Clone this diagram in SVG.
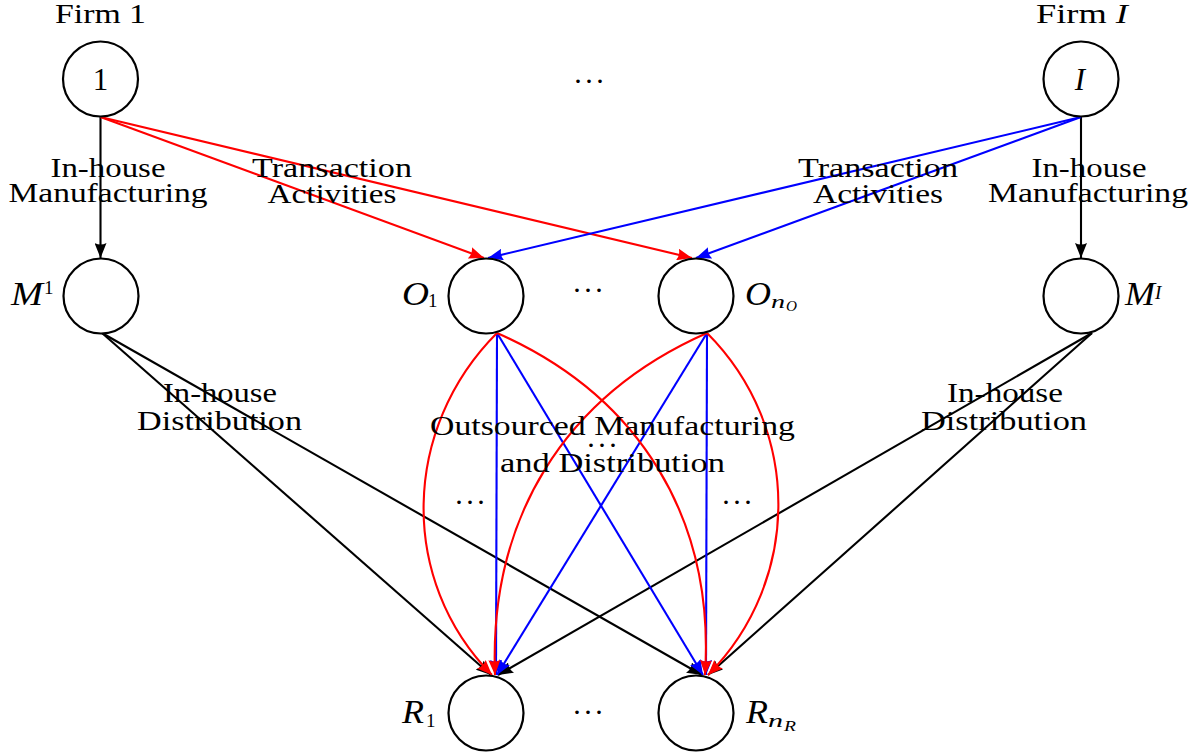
<svg xmlns="http://www.w3.org/2000/svg" width="1202" height="755" viewBox="0 0 1202 755">
<style>
.node{fill:#fff;stroke:#000;stroke-width:2.2}
.t{font-family:"Liberation Serif",serif;font-size:27px;fill:#000;text-anchor:middle}
.c{font-family:"Liberation Serif",serif;font-size:31px;fill:#000;text-anchor:middle}
.m{font-family:"Liberation Serif",serif;font-style:italic;font-size:33px;fill:#000}
.s{font-family:"Liberation Serif",serif;font-size:19px;fill:#000}
.si{font-family:"Liberation Serif",serif;font-style:italic;font-size:19px;fill:#000}
.ss{font-family:"Liberation Serif",serif;font-style:italic;font-size:14px;fill:#000}
.dots{font-family:"Liberation Serif",serif;font-size:30px;fill:#000;text-anchor:middle}
.k{fill:none;stroke:#000;stroke-width:2.1;marker-end:url(#ak)}
.r{fill:none;stroke:#f00;stroke-width:2.1;marker-end:url(#ar)}
.b{fill:none;stroke:#00f;stroke-width:2.1;marker-end:url(#ab)}
</style>
<defs>
<marker id="ak" markerUnits="userSpaceOnUse" markerWidth="16" markerHeight="12" refX="15" refY="6" orient="auto"><path d="M0,0 L15,6 L0,12 Q3,6 0,0 Z" fill="#000"/></marker>
<marker id="ar" markerUnits="userSpaceOnUse" markerWidth="16" markerHeight="12" refX="15" refY="6" orient="auto"><path d="M0,0 L15,6 L0,12 Q3,6 0,0 Z" fill="#f00"/></marker>
<marker id="ab" markerUnits="userSpaceOnUse" markerWidth="16" markerHeight="12" refX="15" refY="6" orient="auto"><path d="M0,0 L15,6 L0,12 Q3,6 0,0 Z" fill="#00f"/></marker>
</defs>
<rect width="1202" height="755" fill="#fff"/>

<g id="connectors">
<line class="k" x1="100.5" y1="117" x2="100.5" y2="258"/>
<line class="k" x1="1081" y1="117" x2="1081" y2="258"/>
<line class="r" x1="100.5" y1="117" x2="484" y2="258"/>
<line class="r" x1="100.5" y1="117" x2="692" y2="258"/>
<line class="b" x1="1081" y1="117" x2="488" y2="258"/>
<line class="b" x1="1081" y1="117" x2="696" y2="258"/>
<line class="k" x1="102" y1="333" x2="491" y2="675"/>
<line class="k" x1="102" y1="333" x2="702" y2="675"/>
<line class="k" x1="1092" y1="333" x2="498" y2="675"/>
<line class="k" x1="1092" y1="333" x2="708" y2="675"/>
<line class="b" x1="497" y1="333" x2="496" y2="675"/>
<line class="b" x1="497" y1="333" x2="703" y2="675"/>
<line class="b" x1="707" y1="333" x2="497" y2="675"/>
<line class="b" x1="707" y1="333" x2="706" y2="675"/>
<path class="r" d="M497,333 C402,428 398,580 492,675"/>
<path class="r" d="M707,333 C802,428 802,580 708,675"/>
<path class="r" d="M497,333 C640,396 715,519 705,675"/>
<path class="r" d="M707,333 C564,396 489,519 495,675"/>
</g>

<g id="firm1">
<circle class="node" cx="100.5" cy="79" r="37.5"/>
<text class="c" x="100.5" y="90">1</text>
<text class="t" x="100.5" y="23" textLength="91" lengthAdjust="spacingAndGlyphs">Firm 1</text>
</g>
<g id="firmI">
<circle class="node" cx="1081" cy="79" r="37.5"/>
<text class="c" x="1080" y="90" font-style="italic">I</text>
<text class="t" x="1082" y="23" textLength="92" lengthAdjust="spacingAndGlyphs">Firm <tspan font-style="italic">I</tspan></text>
</g>
<g id="M1">
<circle class="node" cx="101" cy="296" r="37.5"/>
<text class="m" x="11" y="305" textLength="32" lengthAdjust="spacingAndGlyphs">M</text>
<text class="s" x="44" y="294">1</text>
</g>
<g id="MI">
<circle class="node" cx="1081" cy="296" r="37.5"/>
<text class="m" x="1125" y="305" textLength="30" lengthAdjust="spacingAndGlyphs">M</text>
<text class="si" x="1155" y="299">I</text>
</g>
<g id="O1">
<circle class="node" cx="486" cy="296" r="37.5"/>
<text class="m" x="402" y="305" textLength="27" lengthAdjust="spacingAndGlyphs">O</text>
<text class="s" x="428" y="307">1</text>
</g>
<g id="OnO">
<circle class="node" cx="696" cy="296" r="37.5"/>
<text class="m" x="745" y="305" textLength="26" lengthAdjust="spacingAndGlyphs">O</text>
<text class="si" x="771" y="308" textLength="14" lengthAdjust="spacingAndGlyphs">n</text>
<text class="ss" x="786" y="311" textLength="11" lengthAdjust="spacingAndGlyphs">O</text>
</g>
<g id="R1">
<circle class="node" cx="486" cy="713" r="37.5"/>
<text class="m" x="402" y="723" textLength="22" lengthAdjust="spacingAndGlyphs">R</text>
<text class="s" x="426" y="727">1</text>
</g>
<g id="RnR">
<circle class="node" cx="696" cy="713" r="37.5"/>
<text class="m" x="746" y="723" textLength="22" lengthAdjust="spacingAndGlyphs">R</text>
<text class="si" x="768" y="727" textLength="15" lengthAdjust="spacingAndGlyphs">n</text>
<text class="ss" x="784" y="731" textLength="12" lengthAdjust="spacingAndGlyphs">R</text>
</g>

<g id="labels">
<text class="t" x="108" y="177" textLength="115" lengthAdjust="spacingAndGlyphs">In-house</text>
<text class="t" x="108" y="202" textLength="199" lengthAdjust="spacingAndGlyphs">Manufacturing</text>
<text class="t" x="332" y="177" textLength="160" lengthAdjust="spacingAndGlyphs">Transaction</text>
<text class="t" x="332" y="203" textLength="129" lengthAdjust="spacingAndGlyphs">Activities</text>
<text class="t" x="878" y="177" textLength="160" lengthAdjust="spacingAndGlyphs">Transaction</text>
<text class="t" x="878" y="203" textLength="130" lengthAdjust="spacingAndGlyphs">Activities</text>
<text class="t" x="1089" y="177" textLength="115" lengthAdjust="spacingAndGlyphs">In-house</text>
<text class="t" x="1088" y="202" textLength="200" lengthAdjust="spacingAndGlyphs">Manufacturing</text>
<text class="t" x="220" y="402" textLength="114" lengthAdjust="spacingAndGlyphs">In-house</text>
<text class="t" x="219.5" y="430" textLength="165" lengthAdjust="spacingAndGlyphs">Distribution</text>
<text class="t" x="1005" y="402" textLength="116" lengthAdjust="spacingAndGlyphs">In-house</text>
<text class="t" x="1004" y="430" textLength="166" lengthAdjust="spacingAndGlyphs">Distribution</text>
<text class="t" x="612.5" y="435" textLength="365" lengthAdjust="spacingAndGlyphs">Outsourced Manufacturing</text>
<text class="t" x="612.5" y="472" textLength="225" lengthAdjust="spacingAndGlyphs">and Distribution</text>
</g>

<g id="ellipses">
<text class="dots" x="589" y="90.5" textLength="32" lengthAdjust="spacing">· · ·</text>
<text class="dots" x="588" y="299.5" textLength="32" lengthAdjust="spacing">· · ·</text>
<text class="dots" x="602" y="454.5" textLength="32" lengthAdjust="spacing">· · ·</text>
<text class="dots" x="470" y="511.5" textLength="32" lengthAdjust="spacing">· · ·</text>
<text class="dots" x="737" y="511.5" textLength="32" lengthAdjust="spacing">· · ·</text>
<text class="dots" x="588" y="721.5" textLength="32" lengthAdjust="spacing">· · ·</text>
</g>
</svg>
